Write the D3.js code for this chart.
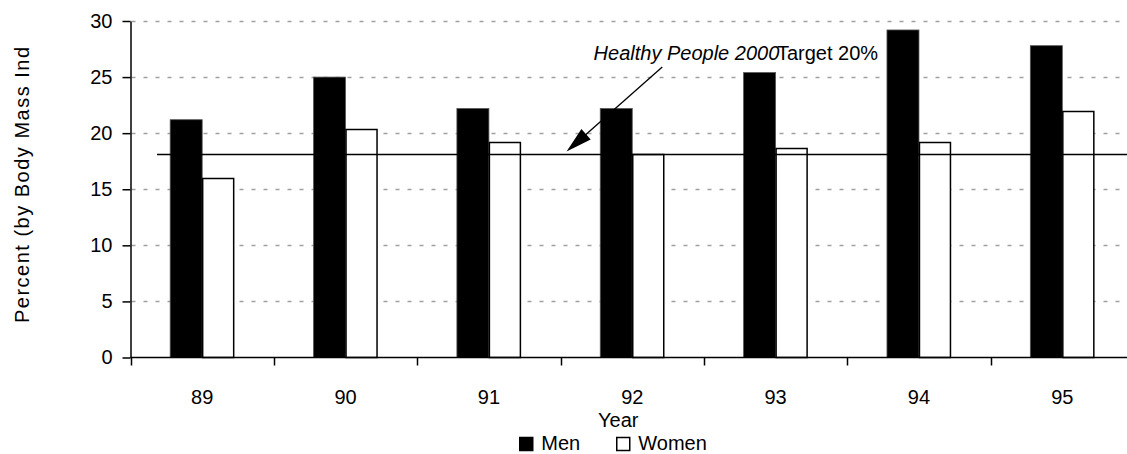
<!DOCTYPE html>
<html>
<head>
<meta charset="utf-8">
<script src="https://cdn.jsdelivr.net/npm/d3@7"></script>
<style>
  body { margin: 0; background: #fff; }
  svg { display: block; font-family: "Liberation Sans", Arial, sans-serif; }
</style>
</head>
<body>
<div id="chart"></div>
<script>
const years = ['89', '90', '91', '92', '93', '94', '95'];
const men = [21.2, 25.0, 22.2, 22.2, 25.4, 29.2, 27.8];
const women = [16.0, 20.4, 19.2, 18.1, 18.7, 19.2, 22.0];
const yTicks = [0, 5, 10, 15, 20, 25, 30];
const targetValue = 18.1;
const seriesNames = ['Men', 'Women'];

const WIDTH = 1127;
const HEIGHT = 454;
const FONT = 20;

const svg = d3.select('#chart').append('svg')
    .attr('width', WIDTH)
    .attr('height', HEIGHT);

const x = d3.scaleBand()
    .domain(years)
    .range([130.5, 1134]);

const y = d3.scaleLinear()
    .domain([0, 30])
    .range([357.5, 21]);

const BAR_W = 32;

// gridlines
svg.append('g')
    .selectAll('line')
    .data(yTicks.filter(d => d > 0))
    .join('line')
    .attr('x1', x.range()[0] + 1)
    .attr('x2', WIDTH)
    .attr('y1', d => Math.round(y(d)) + 0.5)
    .attr('y2', d => Math.round(y(d)) + 0.5)
    .attr('stroke', '#a0a0a0')
    .attr('stroke-width', 1.5)
    .attr('stroke-dasharray', '4,8');

const center = d => x(d) + x.bandwidth() / 2;

// men bars
svg.append('g')
    .selectAll('rect')
    .data(years)
    .join('rect')
    .attr('x', d => center(d) - BAR_W)
    .attr('y', (d, i) => y(men[i]))
    .attr('width', BAR_W)
    .attr('height', (d, i) => y(0) - y(men[i]))
    .attr('fill', '#000')
    .attr('stroke', '#555')
    .attr('stroke-width', 0.8);

// women bars
svg.append('g')
    .selectAll('rect')
    .data(years)
    .join('rect')
    .attr('x', d => center(d) + 0.5)
    .attr('y', (d, i) => Math.round(y(women[i])) + 0.5)
    .attr('width', BAR_W - 1)
    .attr('height', (d, i) => y(0) - Math.round(y(women[i])) - 0.5)
    .attr('fill', '#fff')
    .attr('stroke', '#000')
    .attr('stroke-width', 1.5);

// target line
svg.append('line')
    .attr('x1', x.range()[0] + x.step() * 0.185)
    .attr('x2', WIDTH)
    .attr('y1', Math.round(y(targetValue)) + 0.5)
    .attr('y2', Math.round(y(targetValue)) + 0.5)
    .attr('stroke', '#000')
    .attr('stroke-width', 1.5);

// axes
const yAxis = svg.append('g')
    .attr('transform', `translate(${x.range()[0]},0)`)
    .call(d3.axisLeft(y).tickValues(yTicks).tickSize(8).tickPadding(10).tickSizeOuter(0));

const xAxis = svg.append('g')
    .attr('transform', `translate(0,${y(0)})`)
    .call(d3.axisBottom(x).tickSize(0).tickPadding(32).tickSizeOuter(0));

// tick marks at band boundaries
xAxis.append('g')
    .selectAll('line')
    .data(years)
    .join('line')
    .attr('x1', d => Math.round(x(d)) + 0.5)
    .attr('x2', d => Math.round(x(d)) + 0.5)
    .attr('y1', 0)
    .attr('y2', 8)
    .attr('stroke', '#000')
    .attr('stroke-width', 1.5);

[yAxis, xAxis].forEach(g => {
    g.select('.domain').attr('stroke', '#000').attr('stroke-width', 1.5);
    g.selectAll('.tick line').attr('stroke', '#000').attr('stroke-width', 1.5);
    g.selectAll('text')
        .attr('fill', '#000')
        .style('font-size', FONT + 'px')
        .style('font-family', '"Liberation Sans", Arial, sans-serif');
});
xAxis.select('.domain').attr('d', `M${x.range()[0]},0H${WIDTH}`);

// axis titles
svg.append('text')
    .attr('transform', `translate(29,${(y(30) + y(0)) / 2 - 5}) rotate(-90)`)
    .attr('text-anchor', 'middle')
    .style('font-size', FONT + 'px')
    .style('letter-spacing', '1.5px')
    .text('Percent (by Body Mass Ind');

svg.append('text')
    .attr('x', center('92') - 14)
    .attr('y', 427)
    .attr('text-anchor', 'middle')
    .style('font-size', FONT + 'px')
    .text('Year');

// annotation
const tip = [x('92') + 6, y(targetValue) - 3];
const tail = [center('92') + 30, y(25.9)];
const ang = Math.atan2(tail[1] - tip[1], tail[0] - tip[0]);
const headLen = 26, headW = 7;
const base = [tip[0] + headLen * Math.cos(ang), tip[1] + headLen * Math.sin(ang)];

svg.append('line')
    .attr('x1', base[0] - 4 * Math.cos(ang))
    .attr('y1', base[1] - 4 * Math.sin(ang))
    .attr('x2', tail[0])
    .attr('y2', tail[1])
    .attr('stroke', '#000')
    .attr('stroke-width', 1.3);

svg.append('path')
    .attr('d', d3.line()([
        tip,
        [base[0] - headW * Math.sin(ang), base[1] + headW * Math.cos(ang)],
        [base[0] + headW * Math.sin(ang), base[1] - headW * Math.cos(ang)]
    ]) + 'Z')
    .attr('fill', '#000');

svg.append('text')
    .attr('x', x('92') + 33)
    .attr('y', y(26.56))
    .style('font-size', FONT + 'px')
    .style('font-style', 'italic')
    .text('Healthy People 2000');

svg.append('text')
    .attr('x', x('93') + 73)
    .attr('y', y(26.56))
    .style('font-size', FONT + 'px')
    .text('Target 20%');

// legend
const legend = svg.append('g')
    .attr('transform', `translate(${center('92') - 113},435)`);

const item = legend.selectAll('g')
    .data(seriesNames)
    .join('g')
    .attr('transform', (d, i) => `translate(${i * 97},0)`);

item.append('rect')
    .attr('x', 0.5)
    .attr('y', 2.5)
    .attr('width', 13)
    .attr('height', 13)
    .attr('fill', (d, i) => i === 0 ? '#000' : '#fff')
    .attr('stroke', '#000')
    .attr('stroke-width', 1.5);

item.append('text')
    .attr('x', 22)
    .attr('y', 15)
    .style('font-size', FONT + 'px')
    .text(d => d);
</script>
</body>
</html>
